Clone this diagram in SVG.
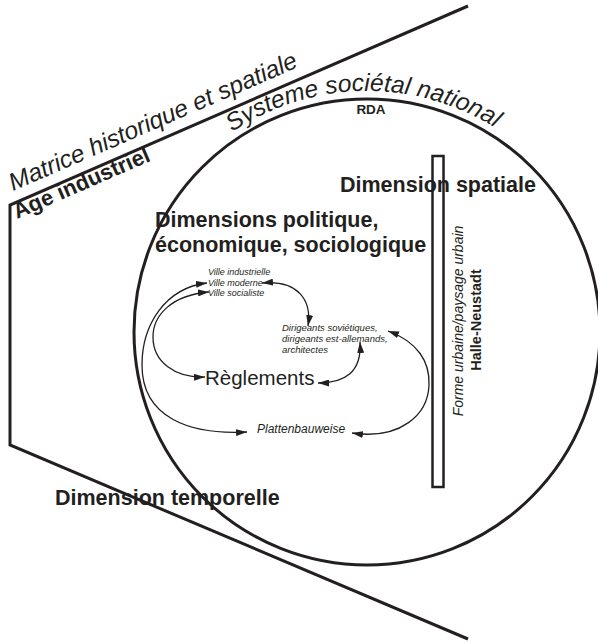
<svg xmlns="http://www.w3.org/2000/svg" width="598" height="643" viewBox="0 0 598 643">
<style>
text{font-family:"Liberation Sans",Arial,sans-serif;fill:#231f20}
.b{font-weight:bold}
.i{font-style:italic}
.h{font-weight:bold;font-size:21.5px}
.frame{fill:none;stroke:#231f20;stroke-width:3;stroke-linecap:butt;stroke-linejoin:miter}
.conn path{fill:none;stroke:#231f20;stroke-width:1.3;marker-start:url(#ah);marker-end:url(#ah)}
</style>
<defs>
<marker id="ah" viewBox="0 0 11 7" refX="11" refY="3.5" markerWidth="11" markerHeight="7" markerUnits="userSpaceOnUse" orient="auto-start-reverse"><path d="M0,0 L11,3.5 L0,7 z" fill="#231f20"/></marker>
<path id="arcTxt" d="M 232.2,132.2 A 241 241 0 0 1 551.6,177"/>
</defs>
<rect width="598" height="643" fill="#fff"/>
<g id="matrice">
<path class="frame" d="M468,6 L10,205 L10,445 L468,639"/>
<text class="i" font-size="24.5" transform="translate(13,191) rotate(-23.5)">Matrice historique et spatiale</text>
<text class="b" font-size="22" transform="translate(17,219) rotate(-23.5)">Age industriel</text>
<text class="h" x="55" y="505">Dimension temporelle</text>
</g>
<g id="systeme">
<circle class="frame" cx="367" cy="332" r="233"/>
<text class="i" font-size="24.5"><textPath href="#arcTxt">Systeme sociétal national</textPath></text>
<text class="b" font-size="13.5" x="371" y="114" text-anchor="middle">RDA</text>
<text class="h" x="155" y="227">Dimensions politique,</text>
<text class="h" x="155" y="252">économique, sociologique</text>
<text class="h" x="340" y="192">Dimension spatiale</text>
</g>
<g id="forme">
<rect x="432.5" y="156" width="11" height="331" fill="none" stroke="#231f20" stroke-width="2.5"/>
<text class="i" font-size="14" transform="translate(463,321) rotate(-90)" text-anchor="middle">Forme urbaine/paysage urbain</text>
<text class="b" font-size="14.5" transform="translate(481,320) rotate(-90)" text-anchor="middle">Halle-Neustadt</text>
</g>
<g id="villes">
<text class="i" font-size="9" x="208" y="275">Ville industrielle</text>
<text class="i" font-size="9" x="208" y="286">Ville moderne</text>
<text class="i" font-size="9" x="208" y="296">Ville socialiste</text>
</g>
<g id="dirigeants">
<text class="i" font-size="9.5" x="282" y="331">Dirigeants soviétiques,</text>
<text class="i" font-size="9.5" x="282" y="342">dirigeants est-allemands,</text>
<text class="i" font-size="9.5" x="282" y="353">architectes</text>
</g>
<g id="reglements">
<text font-size="20.5" x="205" y="385">Règlements</text>
</g>
<g id="plattenbauweise">
<text class="i" font-size="12" x="257" y="433">Plattenbauweise</text>
</g>
<g id="connectors" class="conn">
<path d="M262,283 C298,280 312,300 308,326"/>
<path d="M207,283 C165,288 142,325 142,365 C142,418 190,435 247,432"/>
<path d="M209,292 C172,295 153,315 153,337 C153,362 175,378 205,377"/>
<path d="M318,383 C345,383 362,372 360,342"/>
<path d="M388,331 C418,342 430,362 429,385 C428,415 400,440 352,433"/>
</g>
</svg>
